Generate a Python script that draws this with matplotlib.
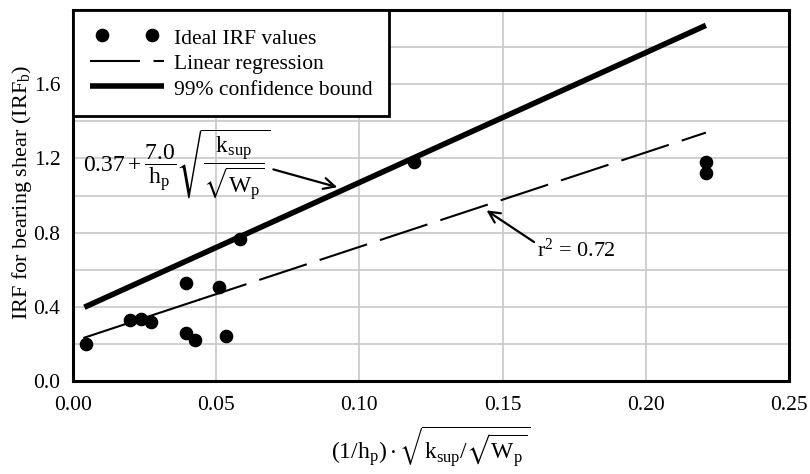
import matplotlib
matplotlib.use("Agg")
import matplotlib.pyplot as plt
from matplotlib.lines import Line2D
from matplotlib.legend_handler import HandlerLine2D

plt.rcParams['font.family'] = ['Liberation Serif', 'DejaVu Serif']
plt.rcParams['mathtext.fontset'] = 'stix'
plt.rcParams['mathtext.default'] = 'regular'

# ideal IRF values
x_pts = [0.0044, 0.0198, 0.0237, 0.0274, 0.0394, 0.0394, 0.0427, 0.0510, 0.0534, 0.0583, 0.1192, 0.221, 0.221]
y_pts = [0.20, 0.33, 0.333, 0.32, 0.531, 0.258, 0.222, 0.506, 0.245, 0.766, 1.18, 1.18, 1.122]

# regression line (solid first piece, then dashed) and 99% bound
reg_x = [0.004, 0.044, 0.221]
reg_y = [0.234, 0.438, 1.339]
bound_x = [0.004, 0.221]
bound_y = [0.398, 1.917]

fig = plt.figure(figsize=(8.1, 4.74), dpi=100)
ax = fig.add_axes([0.090, 0.196, 0.884, 0.783])

pts, = ax.plot(x_pts, y_pts, 'o', color='black', markersize=8.8, label='Ideal IRF values', zorder=4)
ax.plot(reg_x[:2], reg_y[:2], color='black', lw=1.5, zorder=3)
ax.plot(reg_x[1:], reg_y[1:], color='black', lw=1.5, dashes=(24, 6.5), label='Linear regression', zorder=3)
ax.plot(bound_x, bound_y, color='black', lw=4.0, solid_capstyle='butt', label='99% confidence bound', zorder=3)

ax.set_xlim(0, 0.25)
ax.set_ylim(0, 2.0)
ax.set_xticks([0.0, 0.05, 0.10, 0.15, 0.20, 0.25])
ax.set_xticklabels(['0.00', '0.05', '0.10', '0.15', '0.20', '0.25'])
ax.set_yticks([0.0, 0.4, 0.8, 1.2, 1.6])
ax.set_yticks([0.2, 0.6, 1.0, 1.4, 1.8], minor=True)
ax.set_yticklabels(['0.0', '0.4', '0.8', '1.2', '1.6'])
ax.grid(True, which='both', color='#c8c8c8', lw=1.2)
ax.set_axisbelow(True)
ax.tick_params(which='both', length=0, labelsize=15.5, pad=9)
ax.tick_params(axis='x', pad=11)
for s in ax.spines.values():
    s.set_linewidth(2.2)

ax.set_xlabel(r'$(1/h_p)\cdot\sqrt{k_{sup}/\sqrt{W_p}}$', fontsize=17, labelpad=7)
ax.set_ylabel(r'IRF for bearing shear (IRF$_b$)', fontsize=16)
ax.yaxis.set_label_coords(-0.054, 0.51)

ax.annotate(r'$0.37+\dfrac{7.0}{h_p}\sqrt{\dfrac{k_{sup}}{\sqrt{W_p}}}$',
            xy=(0.0923, 1.045), xytext=(0.0035, 1.165), fontsize=17, va='center',
            arrowprops=dict(arrowstyle='->', lw=1.6, color='black', mutation_scale=20,
                            shrinkA=0, shrinkB=0, relpos=(1.0, 0.45)))
ax.annotate(r'r$^2$ = 0.72', xy=(0.1444, 0.92), xytext=(0.162, 0.708), fontsize=16, va='center',
            arrowprops=dict(arrowstyle='->', lw=1.6, color='black', mutation_scale=20,
                            shrinkA=0, shrinkB=0, relpos=(0.0, 0.75)))

leg = ax.legend(loc='upper left', fontsize=15.5, numpoints=2, handlelength=3.45,
                handleheight=1.0, handletextpad=0.45, fancybox=False, framealpha=1,
                edgecolor='black', borderaxespad=0, labelspacing=0.16, borderpad=0.78,
                handler_map={pts: HandlerLine2D(numpoints=2, marker_pad=0.55),
                             Line2D: HandlerLine2D(numpoints=2, marker_pad=0)})
leg.get_frame().set_linewidth(2.0)

fig.savefig('out.png', dpi=100)
